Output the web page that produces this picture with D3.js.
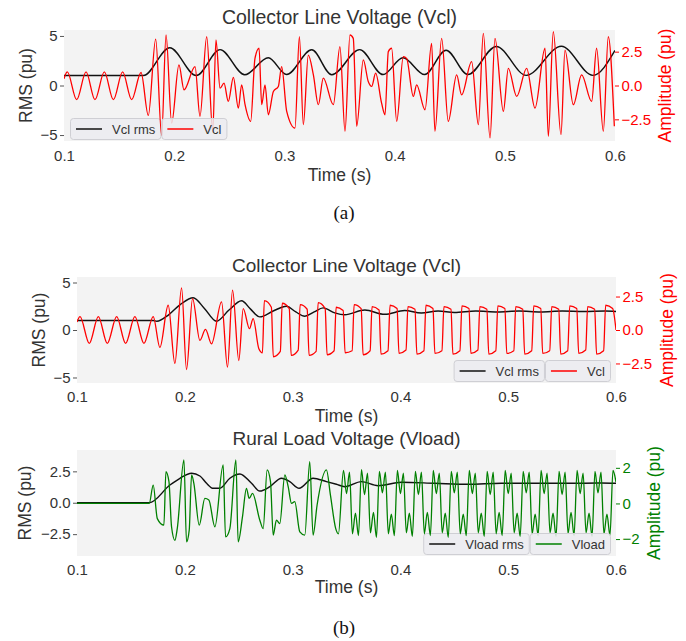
<!DOCTYPE html>
<html>
<head>
<meta charset="utf-8">
<script src="https://cdn.jsdelivr.net/npm/d3@7"></script>
<style>
  html, body { margin: 0; padding: 0; background: #fff; }
  svg { display: block; font-family: "Liberation Sans", Arial, sans-serif; }
</style>
</head>
<body>
<svg id="chart" width="686" height="641"></svg>
<script>
// ── ticks ─────────────────────────────────────────────
const TIME_TICKS = [0.1, 0.2, 0.3, 0.4, 0.5, 0.6];
const TIME_LABELS = ['0.1', '0.2', '0.3', '0.4', '0.5', '0.6'];
const VCL_RMS_TICKS = [-5, 0, 5];
const VCL_RMS_LABELS = ['\u22125', '0', '5'];
const VCL_AMP_TICKS = [-2.5, 0, 2.5];
const VCL_AMP_LABELS = ['\u22122.5', '0.0', '2.5'];
const VLOAD_RMS_TICKS = [-2.5, 0, 2.5];
const VLOAD_RMS_LABELS = ['\u22122.5', '0.0', '2.5'];
const VLOAD_AMP_TICKS = [-2, 0, 2];
const VLOAD_AMP_LABELS = ['\u22122', '0', '2'];

// ── (a) Vcl : [time s, pu] ────────────────────────────
const vclRmsA = [
  [0.100,1.00],[0.172,1.00],[0.196,3.80],[0.220,1.00],[0.2416,3.62],[0.264,1.08],
  [0.2854,2.80],[0.302,1.10],[0.3248,3.60],[0.343,1.08],[0.3683,3.62],[0.3895,1.10],
  [0.4076,2.80],[0.4273,1.10],[0.4467,3.56],[0.4665,1.10],[0.4923,3.94],[0.5195,1.02],
  [0.5513,3.97],[0.5800,1.02],[0.6000,3.54]
];
const vclA = [
  [0.1000,0.50],[0.1030,1.00],[0.1115,-1.05],[0.1200,1.00],[0.1281,-1.05],[0.1366,1.00],
  [0.1448,-1.05],[0.1532,1.00],[0.1614,-1.05],[0.1699,0.96],
  [0.1765,-2.21],[0.1832,3.43],[0.1886,-3.70],[0.1926,3.73],[0.1977,-2.77],[0.2043,1.52],
  [0.2089,-0.32],[0.2189,1.40],[0.2234,-2.28],[0.2295,3.60],[0.2350,-3.40],[0.2379,3.36],
  [0.2416,-0.20],[0.2452,0.17],[0.2491,-1.18],[0.2537,0.60],[0.2582,-1.67],[0.2612,0.05],
  [0.2643,-1.42],[0.2694,-2.65],[0.2733,2.01],[0.2770,2.75],[0.2794,-1.42],[0.2824,0.05],
  [0.2854,-2.16],[0.2900,-0.44],[0.2945,-0.07],[0.2975,1.40],[0.3021,-1.91],[0.3096,-3.14],
  [0.3136,3.60],[0.3172,-2.89],[0.3217,2.25],[0.3263,0.78],[0.3308,-1.42],[0.3353,0.54],
  [0.3444,-1.42],[0.3504,2.87],[0.3550,-3.38],[0.3595,3.73],[0.3625,3.48],[0.3656,-3.01],
  [0.3716,1.89],[0.3761,0.29],[0.3792,-0.07],[0.3828,0.91],[0.3882,-1.30],[0.3913,-2.16],
  [0.3943,2.50],[0.3973,2.75],[0.4019,-2.65],[0.4079,2.13],[0.4109,2.00],[0.4170,-0.81],
  [0.4200,0.05],[0.4276,-1.79],[0.4336,3.11],[0.4366,-3.38],[0.4427,3.48],[0.4487,-2.65],
  [0.4563,0.78],[0.4608,-0.69],[0.4699,1.76],[0.4760,-2.89],[0.4805,3.85],[0.4866,-3.87],
  [0.4911,3.48],[0.4987,-1.91],[0.5032,1.27],[0.5108,-0.81],[0.5198,1.27],[0.5274,-1.67],
  [0.5365,2.75],[0.5395,-3.75],[0.5440,3.97],[0.5510,-3.63],[0.5546,2.62],[0.5622,-1.42],
  [0.5697,0.78],[0.5788,-1.18],[0.5833,2.75],[0.5894,-3.38],[0.5939,3.60],[0.5994,-3.01]
];

// ── (b) Vcl ───────────────────────────────────────────
const vclRmsB = [
  [0.1000,1.00],[0.1707,1.00],[0.1740,0.92],[0.1850,1.60],[0.1960,2.70],[0.2078,3.40],
  [0.2180,2.30],[0.2294,0.92],[0.2410,2.10],[0.2526,3.07],[0.2610,2.20],[0.2696,1.38],
  [0.2820,2.00],[0.2943,2.50],[0.3030,1.90],[0.3113,1.45],[0.3200,1.90],[0.3283,2.33],
  [0.3391,1.80],[0.3484,1.60],[0.3670,2.10],[0.3854,1.65],[0.4040,2.05],[0.4194,1.80],
  [0.4350,2.00],[0.4500,1.85],[0.4700,2.00],[0.4900,1.90],[0.5100,2.00],[0.5300,1.90],
  [0.5500,2.00],[0.5700,1.95],[0.5900,2.00],[0.6000,1.95]
];
const vclB = [
  [0.1000,0.60],[0.1028,1.00],[0.1114,-1.00],[0.1198,1.00],[0.1281,-1.00],[0.1368,1.00],
  [0.1451,-1.00],[0.1537,1.00],[0.1621,-1.00],[0.1707,1.00],
  [0.1769,-1.30],[0.1846,1.85],[0.1908,-2.50],[0.1970,3.15],[0.2016,-2.95],[0.2072,2.35],
  [0.2140,-0.78],[0.2192,0.05],[0.2248,-1.03],[0.2341,2.10],[0.2396,-2.78],[0.2443,2.98],
  [0.2501,-2.28],[0.2542,1.60],[0.2600,0.10],[0.2634,0.85],[0.2687,-1.40],[0.2720,-1.70],
  [0.2738,2.20],[0.2803,1.70],[0.2821,-2.00],[0.2886,-1.60],
  [0.2904,2.00],[0.2969,1.60],[0.2987,-1.90],[0.3052,-1.50],
  [0.3070,1.90],[0.3135,1.55],[0.3153,-1.90],[0.3218,-1.60],
  [0.3237,2.05],[0.3302,1.60],[0.3320,-1.85],[0.3385,-1.55],
  [0.3404,1.70],[0.3469,1.45],[0.3487,-1.70],[0.3552,-1.55],
  [0.3571,1.90],[0.3636,1.60],[0.3654,-1.85],[0.3719,-1.55],
  [0.3737,1.75],[0.3802,1.50],[0.3820,-1.80],[0.3885,-1.55],
  [0.3904,1.85],[0.3969,1.60],[0.3987,-1.75],[0.4052,-1.50],
  [0.4070,1.75],[0.4135,1.55],[0.4153,-1.80],[0.4218,-1.55],
  [0.4237,1.85],[0.4302,1.60],[0.4320,-1.75],[0.4385,-1.55],
  [0.4404,1.75],[0.4469,1.55],[0.4487,-1.80],[0.4552,-1.55],
  [0.4571,1.80],[0.4636,1.60],[0.4654,-1.75],[0.4719,-1.50],
  [0.4737,1.75],[0.4802,1.55],[0.4820,-1.80],[0.4885,-1.55],
  [0.4904,1.80],[0.4969,1.60],[0.4987,-1.75],[0.5052,-1.55],
  [0.5070,1.75],[0.5135,1.55],[0.5153,-1.80],[0.5218,-1.55],
  [0.5237,1.80],[0.5302,1.60],[0.5320,-1.75],[0.5385,-1.55],
  [0.5404,1.75],[0.5469,1.55],[0.5487,-1.80],[0.5552,-1.55],
  [0.5571,1.80],[0.5636,1.60],[0.5654,-1.75],[0.5719,-1.50],
  [0.5737,1.75],[0.5802,1.55],[0.5820,-1.80],[0.5885,-1.55],
  [0.5904,1.85],[0.5969,1.60],[0.6000,0.00]
];

// ── (b) Vload ─────────────────────────────────────────
const vloadRms = [
  [0.1000,0.00],[0.1670,0.00],[0.1862,1.41],[0.1955,1.95],[0.2063,2.35],[0.2140,2.13],
  [0.2202,1.55],[0.2263,1.15],[0.2325,1.15],[0.2418,1.95],[0.2511,2.29],[0.2619,1.55],
  [0.2696,0.93],[0.2789,1.28],[0.2897,1.95],[0.2974,1.68],[0.3060,1.15],[0.3190,1.95],
  [0.3314,1.68],[0.3406,1.47],[0.3484,1.28],[0.3638,1.68],[0.3793,1.36],[0.4009,1.63],
  [0.4318,1.55],[0.4627,1.47],[0.4936,1.55],[0.5245,1.55],[0.5554,1.55],[0.5862,1.57],
  [0.6000,1.55]
];
const vload = [
  [0.1000,0.00],[0.1670,0.00],[0.1707,1.03],[0.1745,-0.85],[0.1806,-1.22],[0.1825,1.78],
  [0.1853,1.22],[0.1877,-1.31],[0.1908,-2.07],[0.1930,-1.41],[0.1992,2.44],[0.2016,-2.16],
  [0.2041,-1.50],[0.2063,1.60],[0.2084,1.13],[0.2134,-1.22],[0.2186,0.28],[0.2223,0.19],
  [0.2279,-1.31],[0.2356,2.16],[0.2378,-1.88],[0.2418,-1.41],[0.2474,2.44],[0.2495,-2.16],
  [0.2535,-0.75],[0.2572,0.85],[0.2597,0.28],[0.2628,0.56],[0.2696,-0.94],[0.2727,-1.41],
  [0.2764,1.88],[0.2795,1.22],[0.2820,-1.78],[0.2850,-0.94],[0.2881,-1.13],[0.2928,1.60],
  [0.2959,0.94],[0.2990,0.00],[0.3020,0.10],[0.3067,-1.60],[0.3113,-1.78],[0.3159,2.35],
  [0.3190,-1.78],[0.3227,-0.10],[0.3314,1.88],[0.3351,0.47],[0.3400,-1.41],[0.3425,-1.70],
  [0.3472,1.85],[0.3500,0.55],[0.3528,1.75],[0.3555,-1.70],[0.3583,-0.55],[0.3611,-1.80],
  [0.3639,1.90],[0.3667,0.50],[0.3695,1.70],[0.3722,-1.65],[0.3750,-0.50],[0.3778,-1.90],
  [0.3805,1.80],[0.3833,0.60],[0.3861,1.75],[0.3888,-1.70],[0.3916,-0.60],[0.3944,-1.80],
  [0.3972,1.85],[0.4000,0.55],[0.4028,1.70],[0.4055,-1.65],[0.4083,-0.55],[0.4111,-1.85],
  [0.4139,1.80],[0.4167,0.50],[0.4195,1.75],[0.4222,-1.70],[0.4250,-0.50],[0.4278,-1.80],
  [0.4305,1.85],[0.4333,0.55],[0.4361,1.70],[0.4388,-1.65],[0.4416,-0.55],[0.4444,-1.90],
  [0.4472,1.80],[0.4500,0.60],[0.4528,1.75],[0.4555,-1.70],[0.4583,-0.60],[0.4611,-1.80],
  [0.4639,1.85],[0.4667,0.55],[0.4695,1.70],[0.4722,-1.65],[0.4750,-0.55],[0.4778,-1.85],
  [0.4805,1.80],[0.4833,0.50],[0.4861,1.75],[0.4888,-1.70],[0.4916,-0.50],[0.4944,-1.80],
  [0.4972,1.85],[0.5000,0.55],[0.5028,1.70],[0.5055,-1.65],[0.5083,-0.55],[0.5111,-1.85],
  [0.5139,1.80],[0.5167,0.60],[0.5195,1.75],[0.5222,-1.70],[0.5250,-0.60],[0.5278,-1.80],
  [0.5305,1.85],[0.5333,0.55],[0.5361,1.70],[0.5388,-1.65],[0.5416,-0.55],[0.5444,-1.85],
  [0.5472,1.80],[0.5500,0.50],[0.5528,1.75],[0.5555,-1.70],[0.5583,-0.50],[0.5611,-1.80],
  [0.5639,1.85],[0.5667,0.55],[0.5695,1.70],[0.5722,-1.65],[0.5750,-0.55],[0.5778,-1.85],
  [0.5805,1.80],[0.5833,0.60],[0.5861,1.75],[0.5888,-1.70],[0.5916,-0.60],[0.5944,-1.80],
  [0.5972,1.85],[0.6000,1.20]
];

// ── style ─────────────────────────────────────────────
const BG = '#f3f3f3';
const TEXT = '#333';
const RED = '#ff0000';
const GREEN = '#008000';

const PANELS = [
  {
    id: 'a', title: 'Collector Line Voltage (Vcl)', titleSize: 19.5, titleY: 24,
    left: 64, right: 615, top: 30, bottom: 141,
    rmsDomain: [-5.6, 5.6], ampDomain: [-4.1, 4.1],
    rmsTicks: VCL_RMS_TICKS, rmsLabels: VCL_RMS_LABELS,
    ampTicks: VCL_AMP_TICKS, ampLabels: VCL_AMP_LABELS,
    rms: vclRmsA, amp: vclA, color: RED,
    rmsName: 'Vcl rms', ampName: 'Vcl', legendSide: 'left',
    xTickPad: 9, xLabelY: 181, rmsLabelX: 26, ampLabelX: 665
  },
  {
    id: 'b1', title: 'Collector Line Voltage (Vcl)', titleSize: 19, titleY: 271.5,
    left: 77, right: 616, top: 277, bottom: 383,
    rmsDomain: [-5.58, 5.58], ampDomain: [-3.96, 3.96],
    rmsTicks: VCL_RMS_TICKS, rmsLabels: VCL_RMS_LABELS,
    ampTicks: VCL_AMP_TICKS, ampLabels: VCL_AMP_LABELS,
    rms: vclRmsB, amp: vclB, color: RED,
    rmsName: 'Vcl rms', ampName: 'Vcl', legendSide: 'right',
    xTickPad: 8.5, xLabelY: 421.5, rmsLabelX: 38.5, ampLabelX: 667
  },
  {
    id: 'b2', title: 'Rural Load Voltage (Vload)', titleSize: 19, titleY: 445,
    left: 77, right: 616, top: 450, bottom: 556,
    rmsDomain: [-4.24, 4.2], ampDomain: [-2.95, 3.0],
    rmsTicks: VLOAD_RMS_TICKS, rmsLabels: VLOAD_RMS_LABELS,
    ampTicks: VLOAD_AMP_TICKS, ampLabels: VLOAD_AMP_LABELS,
    rms: vloadRms, amp: vload, color: GREEN,
    rmsName: 'Vload rms', ampName: 'Vload', legendSide: 'right',
    xTickPad: 8.5, xLabelY: 593, rmsLabelX: 25, ampLabelX: 654
  }
];

const svg = d3.select('#chart');
svg.append('rect').attr('width', 686).attr('height', 641).attr('fill', '#fff');

// text width helper for the legend boxes
function textWidth(str, size) {
  const t = svg.append('text').attr('font-size', size).text(str);
  const w = t.node().getComputedTextLength();
  t.remove();
  return w;
}

function legendBox(g, x, y, w, h, color, name) {
  g.append('rect')
    .attr('x', x + 0.5).attr('y', y + 0.5).attr('width', w - 1).attr('height', h - 1)
    .attr('rx', 3).attr('fill', '#ebebf0').attr('fill-opacity', 0.85)
    .attr('stroke', '#cfcfd4').attr('stroke-width', 1);
  g.append('line')
    .attr('x1', x + 6).attr('x2', x + 32).attr('y1', y + h / 2).attr('y2', y + h / 2)
    .attr('stroke', color).attr('stroke-width', 1.5);
  g.append('text')
    .attr('x', x + 42).attr('y', y + h / 2 + 4.6)
    .attr('font-size', 13).attr('fill', TEXT).text(name);
}

// ── panel ─────────────────────────────────────────────
function renderPanel(p) {
  const x = d3.scaleLinear().domain([0.1, 0.6]).range([p.left, p.right]);
  const yL = d3.scaleLinear().domain(p.rmsDomain).range([p.bottom, p.top]);
  const yR = d3.scaleLinear().domain(p.ampDomain).range([p.bottom, p.top]);
  const g = svg.append('g');

  g.append('rect')
    .attr('x', p.left).attr('y', p.top)
    .attr('width', p.right - p.left).attr('height', p.bottom - p.top)
    .attr('fill', BG);

  svg.append('clipPath').attr('id', 'clip-' + p.id)
    .append('rect')
    .attr('x', p.left).attr('y', p.top)
    .attr('width', p.right - p.left).attr('height', p.bottom - p.top);

  const lineL = d3.line().x(d => x(d[0])).y(d => yL(d[1])).curve(d3.curveMonotoneX);
  const lineR = d3.line().x(d => x(d[0])).y(d => yR(d[1])).curve(d3.curveMonotoneX);

  // legend geometry
  const h = 22;
  const ly = p.bottom - 1 - h;
  const w1 = 42 + textWidth(p.rmsName, 13) + 6;
  const w2 = 42 + textWidth(p.ampName, 13) + 6;
  let x1, x2;
  if (p.legendSide === 'left') { x1 = p.left + 6; x2 = x1 + w1; }
  else { x2 = p.right - 5 - w2; x1 = x2 - w1; }

  g.append('path').datum(p.rms)
    .attr('clip-path', `url(#clip-${p.id})`)
    .attr('d', lineL).attr('fill', 'none')
    .attr('stroke', '#111').attr('stroke-width', 1.45);

  legendBox(g, x1, ly, w1, h, '#111', p.rmsName);

  g.append('path').datum(p.amp)
    .attr('clip-path', `url(#clip-${p.id})`)
    .attr('d', lineR).attr('fill', 'none')
    .attr('stroke', p.color).attr('stroke-width', 1.3)
    .attr('stroke-linejoin', 'round');

  legendBox(g, x2, ly, w2, h, p.color, p.ampName);

  // axes
  const xAxis = d3.axisBottom(x).tickValues(TIME_TICKS)
    .tickFormat((d, i) => TIME_LABELS[i]).tickSize(0).tickPadding(p.xTickPad);
  const gx = g.append('g').attr('transform', `translate(0,${p.bottom})`).call(xAxis);

  const lAxis = d3.axisLeft(yL).tickValues(p.rmsTicks)
    .tickFormat((d, i) => p.rmsLabels[i]).tickSize(4).tickPadding(2.5);
  const gl = g.append('g').attr('transform', `translate(${p.left},0)`).call(lAxis);

  const rAxis = d3.axisRight(yR).tickValues(p.ampTicks)
    .tickFormat((d, i) => p.ampLabels[i]).tickSize(4).tickPadding(2.5);
  const gr = g.append('g').attr('transform', `translate(${p.right},0)`).call(rAxis);

  [gx, gl, gr].forEach(a => {
    a.select('.domain').remove();
    a.selectAll('text').attr('font-size', 15).attr('font-family', null);
  });
  gx.selectAll('text').attr('fill', TEXT);
  gl.selectAll('text').attr('fill', TEXT);
  gl.selectAll('line').attr('stroke', '#555');
  gr.selectAll('text').attr('fill', p.color);
  gr.selectAll('line').attr('stroke', p.color);

  // titles and labels
  const cx = (p.left + p.right) / 2;
  const cy = (p.top + p.bottom) / 2;
  g.append('text').attr('x', cx).attr('y', p.titleY)
    .attr('text-anchor', 'middle').attr('font-size', p.titleSize).attr('fill', TEXT)
    .text(p.title);
  g.append('text').attr('x', cx).attr('y', p.xLabelY)
    .attr('text-anchor', 'middle').attr('font-size', 17.5).attr('fill', TEXT)
    .text('Time (s)');
  g.append('text')
    .attr('transform', `translate(${p.rmsLabelX},${cy}) rotate(-90)`)
    .attr('text-anchor', 'middle').attr('dominant-baseline', 'central')
    .attr('font-size', 17.5).attr('fill', TEXT).text('RMS (pu)');
  g.append('text')
    .attr('transform', `translate(${p.ampLabelX},${cy}) rotate(-90)`)
    .attr('text-anchor', 'middle').attr('dominant-baseline', 'central')
    .attr('font-size', 17.5).attr('fill', p.color).text('Amplitude (pu)');
}

PANELS.forEach(renderPanel);

// ── captions ──────────────────────────────────────────
svg.append('text').attr('x', 344).attr('y', 219).attr('text-anchor', 'middle')
  .attr('font-family', '"Liberation Serif", "DejaVu Serif", serif')
  .attr('font-size', 19).attr('fill', '#111').text('(a)');
svg.append('text').attr('x', 344).attr('y', 634).attr('text-anchor', 'middle')
  .attr('font-family', '"Liberation Serif", "DejaVu Serif", serif')
  .attr('font-size', 19).attr('fill', '#111').text('(b)');
</script>
</body>
</html>
